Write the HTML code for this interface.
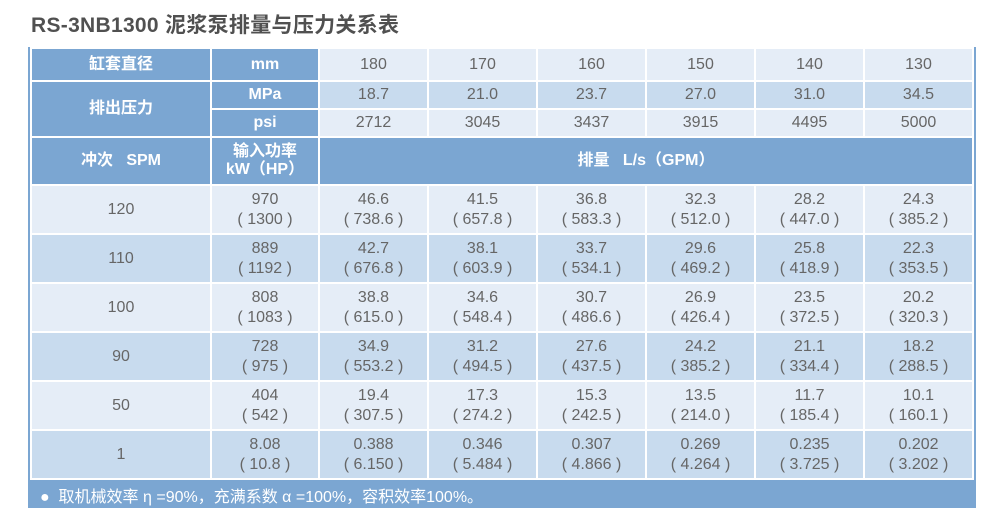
<!DOCTYPE html>
<html><head><meta charset="utf-8"><style>
body{margin:0;width:1000px;height:530px;background:#fff;font-family:"Liberation Sans","Noto Sans CJK SC",sans-serif;position:relative;overflow:hidden}
.t{position:absolute;left:31px;top:9px;font-size:21px;font-weight:bold;color:#505050;letter-spacing:0.3px}
.box{position:absolute;left:28px;top:47px;width:948px;height:461px;background:#7ba6d2}
table{position:absolute;left:2px;top:0px;border-collapse:separate;border-spacing:2px;background:#fff}
td{padding:0;text-align:center;color:#666;font-size:16px;line-height:20px}
.b{background:#7ba6d2;color:#fff;font-weight:bold;font-size:16px}
.l{background:#e5edf7}.m{background:#c8dbee}
.f{position:absolute;left:12px;top:436px;color:#fff;font-size:16px}
</style></head><body>
<div class="t">RS-3NB1300 泥浆泵排量与压力关系表</div>
<div class="box">
<table>
<colgroup><col style="width:178px"><col style="width:106px"><col style="width:107px"><col style="width:107px"><col style="width:107px"><col style="width:107px"><col style="width:107px"><col style="width:107px"></colgroup>
<tr style="height:31px"><td class="b">缸套直径</td><td class="b">mm</td><td class="l">180</td><td class="l">170</td><td class="l">160</td><td class="l">150</td><td class="l">140</td><td class="l">130</td></tr>
<tr style="height:26px"><td class="b" rowspan="2">排出压力</td><td class="b">MPa</td><td class="m">18.7</td><td class="m">21.0</td><td class="m">23.7</td><td class="m">27.0</td><td class="m">31.0</td><td class="m">34.5</td></tr>
<tr style="height:26px"><td class="b">psi</td><td class="l">2712</td><td class="l">3045</td><td class="l">3437</td><td class="l">3915</td><td class="l">4495</td><td class="l">5000</td></tr>
<tr style="height:46px"><td class="b">冲次&nbsp;&nbsp;&nbsp;SPM</td><td class="b" style="line-height:18px">输入功率<br>kW（HP）</td><td class="b" colspan="6">排量&nbsp;&nbsp;&nbsp;L/s（GPM）</td></tr>
<tr style="height:47px"><td class="l">120</td><td class="l">970<br>( 1300 )</td><td class="l">46.6<br>( 738.6 )</td><td class="l">41.5<br>( 657.8 )</td><td class="l">36.8<br>( 583.3 )</td><td class="l">32.3<br>( 512.0 )</td><td class="l">28.2<br>( 447.0 )</td><td class="l">24.3<br>( 385.2 )</td></tr>
<tr style="height:47px"><td class="m">110</td><td class="m">889<br>( 1192 )</td><td class="m">42.7<br>( 676.8 )</td><td class="m">38.1<br>( 603.9 )</td><td class="m">33.7<br>( 534.1 )</td><td class="m">29.6<br>( 469.2 )</td><td class="m">25.8<br>( 418.9 )</td><td class="m">22.3<br>( 353.5 )</td></tr>
<tr style="height:47px"><td class="l">100</td><td class="l">808<br>( 1083 )</td><td class="l">38.8<br>( 615.0 )</td><td class="l">34.6<br>( 548.4 )</td><td class="l">30.7<br>( 486.6 )</td><td class="l">26.9<br>( 426.4 )</td><td class="l">23.5<br>( 372.5 )</td><td class="l">20.2<br>( 320.3 )</td></tr>
<tr style="height:47px"><td class="m">90</td><td class="m">728<br>( 975 )</td><td class="m">34.9<br>( 553.2 )</td><td class="m">31.2<br>( 494.5 )</td><td class="m">27.6<br>( 437.5 )</td><td class="m">24.2<br>( 385.2 )</td><td class="m">21.1<br>( 334.4 )</td><td class="m">18.2<br>( 288.5 )</td></tr>
<tr style="height:47px"><td class="l">50</td><td class="l">404<br>( 542 )</td><td class="l">19.4<br>( 307.5 )</td><td class="l">17.3<br>( 274.2 )</td><td class="l">15.3<br>( 242.5 )</td><td class="l">13.5<br>( 214.0 )</td><td class="l">11.7<br>( 185.4 )</td><td class="l">10.1<br>( 160.1 )</td></tr>
<tr style="height:47px"><td class="m">1</td><td class="m">8.08<br>( 10.8 )</td><td class="m">0.388<br>( 6.150 )</td><td class="m">0.346<br>( 5.484 )</td><td class="m">0.307<br>( 4.866 )</td><td class="m">0.269<br>( 4.264 )</td><td class="m">0.235<br>( 3.725 )</td><td class="m">0.202<br>( 3.202 )</td></tr>
</table>
<div class="f">●&nbsp;&nbsp;取机械效率 η =90%，充满系数 α =100%，容积效率100%。</div>
</div>
</body></html>
